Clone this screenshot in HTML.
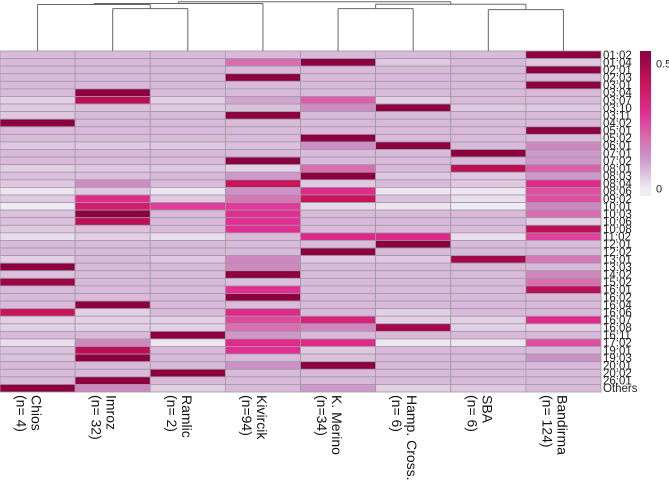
<!DOCTYPE html>
<html><head><meta charset="utf-8">
<style>
html,body{margin:0;padding:0;background:#fff;width:669px;height:489px;overflow:hidden;font-family:"Liberation Sans",sans-serif;}
svg{position:absolute;left:0;top:0}
.clab{position:absolute;top:395px;writing-mode:vertical-rl;font-size:14px;line-height:15px;color:#111;white-space:pre}
</style></head>
<body>
<svg id="chart" width="669" height="489"></svg>
<script>
const rows=["01:02","01:04","02:01","02:03","03:01","03:04","03:07","03:10","03:11","04:02","05:01","05:02","06:01","07:01","07:02","08:01","08:03","08:04","08:06","09:02","10:01","10:03","10:06","10:08","11:02","12:01","12:02","13:01","13:03","14:02","15:02","16:01","16:02","16:04","16:06","16:07","16:08","16:11","17:02","19:01","19:03","20:01","20:02","26:01","Others"];
const columns=["Chios\n(n= 4)","Imroz\n(n= 32)","Ramlic\n(n= 2)","Kivircik\n(n=94)","K. Merino\n(n=34)","Hamp. Cross.\n(n= 6)","SBA\n(n= 6)","Bandirma\n(n= 124)"];
const chios=[.07,.07,.07,.07,.07,.07,.04,.05,.05,.55,.07,.07,.05,.07,.07,.04,.06,.05,.01,.05,0,.06,.06,.05,.02,.07,.07,.04,.55,.06,.52,.07,.07,.07,.42,.04,.04,.07,.02,.06,.06,.07,.07,.07,.55];
const imroz=[.07,.07,.07,.07,.07,.55,.45,.06,.07,.07,.07,.07,.05,.07,.07,.05,.06,.14,.05,.32,.38,.55,.45,.06,.04,.07,.07,.07,.07,.07,.07,.07,.07,.55,.04,.04,.04,.07,.15,.45,.55,.07,.07,.55,.15];
const ramlic=[.07,.07,.07,.07,.07,.07,.04,.05,.07,.07,.07,.07,.05,.07,.07,.05,.07,.07,.01,.05,.28,.07,.07,.07,.02,.07,.07,.05,.07,.07,.07,.07,.07,.07,.07,.04,.04,.55,.01,.07,.07,.07,.55,.07,.04];
const kivircik=[.07,.2,.07,.55,.07,.07,.1,.06,.55,.07,.07,.07,.06,.07,.55,.04,.12,.42,.13,.18,.28,.3,.3,.3,.07,.07,.07,.15,.15,.55,.06,.3,.55,.07,.32,.26,.2,.12,.32,.3,.07,.13,.07,.07,.07];
const kmerino=[.07,.55,.07,.07,.07,.07,.22,.14,.07,.07,.07,.55,.13,.07,.07,.2,.55,.05,.32,.42,.03,.07,.07,.07,.32,.07,.55,.05,.07,.07,.07,.07,.07,.07,.07,.35,.15,.07,.32,.05,.06,.55,.07,.07,.12];
const hamp=[.07,.05,.07,.07,.07,.07,.04,.55,.07,.07,.07,.07,.55,.07,.07,.07,.05,.07,.01,.06,.01,.07,.07,.07,.32,.55,.07,.05,.07,.07,.07,.07,.07,.07,.04,.04,.5,.07,.01,.07,.07,.07,.07,.07,.04];
const sba=[.07,.07,.07,.07,.07,.07,.07,.05,.07,.07,.07,.07,.07,.55,.07,.45,.05,.05,.01,.02,0,.07,.07,.07,.02,.07,.07,.5,.07,.07,.07,.07,.07,.07,.07,.04,.04,.07,.01,.07,.07,.07,.07,.07,.05];
const bandirma=[.55,.05,.55,.07,.55,.07,.07,.05,.07,.07,.55,.07,.15,.12,.12,.22,.12,.32,.25,.25,.15,.2,.04,.45,.27,.07,.07,.18,.07,.15,.2,.45,.07,.07,.07,.32,.04,.07,.25,.07,.13,.07,.07,.07,.07];
const series=[chios,imroz,ramlic,kivircik,kmerino,hamp,sba,bandirma];
const legendTicks=[0,0.5];

const NS="http://www.w3.org/2000/svg";
const svg=document.getElementById('chart');
const X0=0,X1=601,Y0=51,Y1=392;
const cw=(X1-X0)/columns.length, rh=(Y1-Y0)/rows.length;
const xCol=i=>X0+i*cw, yRow=j=>Y0+j*rh;
const stops=[[0,[240,236,244]],[0.07,[217,186,219]],[0.13,[204,145,198]],[0.2,[216,110,175]],[0.3,[226,46,146]],[0.42,[200,20,90]],[0.55,[140,0,64]]];
function color(v){
  if(v<=stops[0][0])return 'rgb('+stops[0][1]+')';
  for(let k=1;k<stops.length;k++){
    if(v<=stops[k][0]){const a=stops[k-1],b=stops[k];const t=(v-a[0])/(b[0]-a[0]);
      return 'rgb('+a[1].map((c,i)=>Math.round(c+(b[1][i]-c)*t)).join(',')+')';}
  }
  return 'rgb('+stops[stops.length-1][1]+')';
}
function mk(tag,attrs){const e=document.createElementNS(NS,tag);for(const k in attrs)e.setAttribute(k,attrs[k]);svg.appendChild(e);return e;}
series.forEach((s,i)=>{
  s.forEach((v,j)=>{
    const r=mk('rect',{x:xCol(i),y:yRow(j),width:cw,height:rh,fill:color(v),stroke:'#a09aa2','stroke-width':0.8});
    
    
  });
});
rows.forEach((lab,j)=>{
  const t=mk('text',{x:X1+2,y:yRow(j)+rh/2+4,'font-size':11.5,'font-family':'Liberation Sans, sans-serif',fill:'#222'});
  t.textContent=lab;
  
  
});
const cx=i=>xCol(i)+cw/2;
function seg(x1,y1,x2,y2){const l=mk('line',{x1:x1,y1:y1,x2:x2,y2:y2,stroke:'#666','stroke-width':1});}
function join(xa,ya,xb,yb,y){seg(xa,ya,xa,y);seg(xb,yb,xb,y);seg(xa,y,xb,y);}
const IR=(cx(1)+cx(2))/2, C_IR=(cx(0)+IR)/2, L=(C_IR+cx(3))/2;
join(cx(1),Y0,cx(2),Y0,8.6);
join(cx(0),Y0,IR,8.6,4.5);
join(C_IR,4.5,cx(3),Y0,3.5);
const MH=(cx(4)+cx(5))/2, SB=(cx(6)+cx(7))/2, R=(MH+SB)/2;
join(cx(4),Y0,cx(5),Y0,8.6);
join(cx(6),Y0,cx(7),Y0,9.6);
join(MH,8.6,SB,9.6,4.2);
join(L,3.5,R,4.2,1.8);
const defs=mk('defs',{});
const g=document.createElementNS(NS,'linearGradient');g.setAttribute('id','lg');g.setAttribute('x1',0);g.setAttribute('y1',1);g.setAttribute('x2',0);g.setAttribute('y2',0);defs.appendChild(g);
const vmin=-0.03,vmax=0.55;
for(let k=0;k<=20;k++){const v=vmin+(vmax-vmin)*k/20;const st=document.createElementNS(NS,'stop');st.setAttribute('offset',k/20);st.setAttribute('stop-color',color(v));g.appendChild(st);}
const lb=mk('rect',{x:640,y:51,width:11,height:145,fill:'url(#lg)'});


const ly=v=>196-(v-vmin)/(vmax-vmin)*145;
legendTicks.forEach(v=>{
  const t=mk('text',{x:656,y:ly(v)+4,'font-size':11,'font-family':'Liberation Sans, sans-serif',fill:'#222'});
  t.textContent=String(v);
  
  
});
columns.forEach((c,i)=>{
  const d=document.createElement('div');
  d.className='clab';
  d.textContent=c;
  d.style.left=(cx(i)-24)+'px';
  
  
  document.body.appendChild(d);
});
</script>
</body></html>
